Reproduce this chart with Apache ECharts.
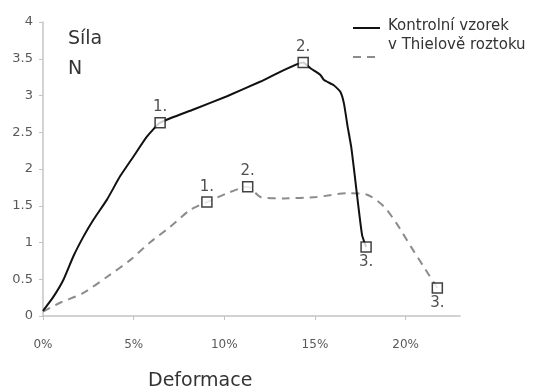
<!DOCTYPE html>
<html>
<head>
<meta charset="utf-8">
<script src="https://cdn.jsdelivr.net/npm/echarts@6/dist/echarts.min.js"></script>
<style>html,body{margin:0;padding:0;background:#fff}#c{width:555px;height:392px}</style>
</head>
<body>
<div id="c"></div>
<script>
// Deformace (%) and Síla (N)
var ctrlX = [0, 0.57, 1.12, 1.67, 2.23, 2.78, 3.52, 4.25, 4.99, 5.73, 6.46, 8.3, 10.15, 12.0, 14.35, 14.75, 15.3, 15.5, 16.04, 16.4, 16.6, 16.8, 17.0, 17.2, 17.4, 17.6, 17.82];
var ctrlY = [0.07, 0.26, 0.49, 0.81, 1.08, 1.31, 1.58, 1.90, 2.17, 2.44, 2.63, 2.81, 2.99, 3.19, 3.45, 3.37, 3.28, 3.21, 3.14, 3.05, 2.89, 2.58, 2.30, 1.90, 1.48, 1.10, 0.94];
var thielX = [0, 0.94, 2.2, 3.52, 4.8, 5.9, 7.0, 8.1, 9.04, 10.15, 11.29, 12.0, 13.26, 15.1, 16.78, 17.88, 18.8, 19.5, 20.3, 21.0, 21.75];
var thielY = [0.06, 0.18, 0.31, 0.53, 0.76, 1.0, 1.21, 1.44, 1.55, 1.67, 1.76, 1.62, 1.6, 1.62, 1.67, 1.65, 1.49, 1.26, 0.94, 0.67, 0.38];
var ctrlMarkIdx = [10, 14, 26];
var thielMarkIdx = [8, 10, 20];
var markLabels = ['1.', '2.', '3.'];
var ctrlLabelPos = ['top', 'top', 'bottom'];
var thielLabelPos = ['top', 'top', 'bottom'];
var seriesNames = ['Kontrolní vzorek', 'v Thielově roztoku'];
var yTitle = ['Síla', 'N'];
var xTitle = 'Deformace';

function pairs(xs, ys) { return xs.map(function (x, i) { return [x, ys[i]]; }); }
function marks(xs, ys, idx, pos) {
  return idx.map(function (k, i) {
    return { value: [xs[k], ys[k]], label: { formatter: markLabels[i], position: pos[i] } };
  });
}
var FONT = 'DejaVu Sans';
var chart = echarts.init(document.getElementById('c'), null, { renderer: 'canvas' });
var markStyle = { color: '#fff', borderColor: '#111', borderWidth: 1.5 };
var markLabel = { show: true, fontFamily: FONT, fontSize: 15, color: '#222', distance: 2 };
chart.setOption({
  animation: false,
  backgroundColor: '#fff',
  grid: { left: 43, right: 95, top: 22, bottom: 76, containLabel: false },
  xAxis: {
    type: 'value', min: 0, max: 23, interval: 5,
    axisLine: { lineStyle: { color: '#c4c4c4', width: 1.5 } },
    axisTick: { show: true, length: 4, lineStyle: { color: '#c4c4c4' } },
    splitLine: { show: false },
    axisLabel: { formatter: '{value}%', fontFamily: FONT, fontSize: 12, color: '#595959', margin: 23,
      showMaxLabel: false }
  },
  yAxis: {
    type: 'value', min: 0, max: 4, interval: 0.5,
    axisLine: { show: true, lineStyle: { color: '#c4c4c4', width: 1.5 } },
    axisTick: { show: true, length: 4, lineStyle: { color: '#c4c4c4' } },
    splitLine: { show: false },
    axisLabel: { fontFamily: FONT, fontSize: 13, color: '#595959', margin: 10 }
  },
  series: [
    { name: seriesNames[0], type: 'line', data: pairs(ctrlX, ctrlY), showSymbol: false, smooth: 0.15,
      lineStyle: { color: '#111', width: 2 }, z: 3 },
    { name: seriesNames[1], type: 'line', data: pairs(thielX, thielY), showSymbol: false, smooth: 0.25,
      lineStyle: { color: '#8c8c8c', width: 2, type: [8, 6] }, z: 2 },
    { type: 'scatter', data: marks(ctrlX, ctrlY, ctrlMarkIdx, ctrlLabelPos), symbol: 'rect', symbolSize: 10,
      itemStyle: markStyle, label: markLabel, z: 5 },
    { type: 'scatter', data: marks(thielX, thielY, thielMarkIdx, thielLabelPos), symbol: 'rect', symbolSize: 10,
      itemStyle: markStyle, label: markLabel, z: 5 }
  ],
  graphic: [
    { type: 'text', left: 68, top: 30, style: { text: yTitle[0], font: '19px "' + FONT + '"', fill: '#333' } },
    { type: 'text', left: 68, top: 60, style: { text: yTitle[1], font: '19px "' + FONT + '"', fill: '#333' } },
    { type: 'text', left: 148, top: 372, style: { text: xTitle, font: '19px "' + FONT + '"', fill: '#333' } },
    { type: 'line', shape: { x1: 353, y1: 28, x2: 380, y2: 28 }, style: { stroke: '#111', lineWidth: 2 } },
    { type: 'line', shape: { x1: 353, y1: 57, x2: 380, y2: 57 }, style: { stroke: '#8c8c8c', lineWidth: 2, lineDash: [8, 6] } },
    { type: 'text', left: 388, top: 19, style: { text: seriesNames[0], font: '15px "' + FONT + '"', fill: '#333' } },
    { type: 'text', left: 388, top: 38, style: { text: seriesNames[1], font: '15px "' + FONT + '"', fill: '#333' } }
  ]
});
</script>
</body>
</html>
